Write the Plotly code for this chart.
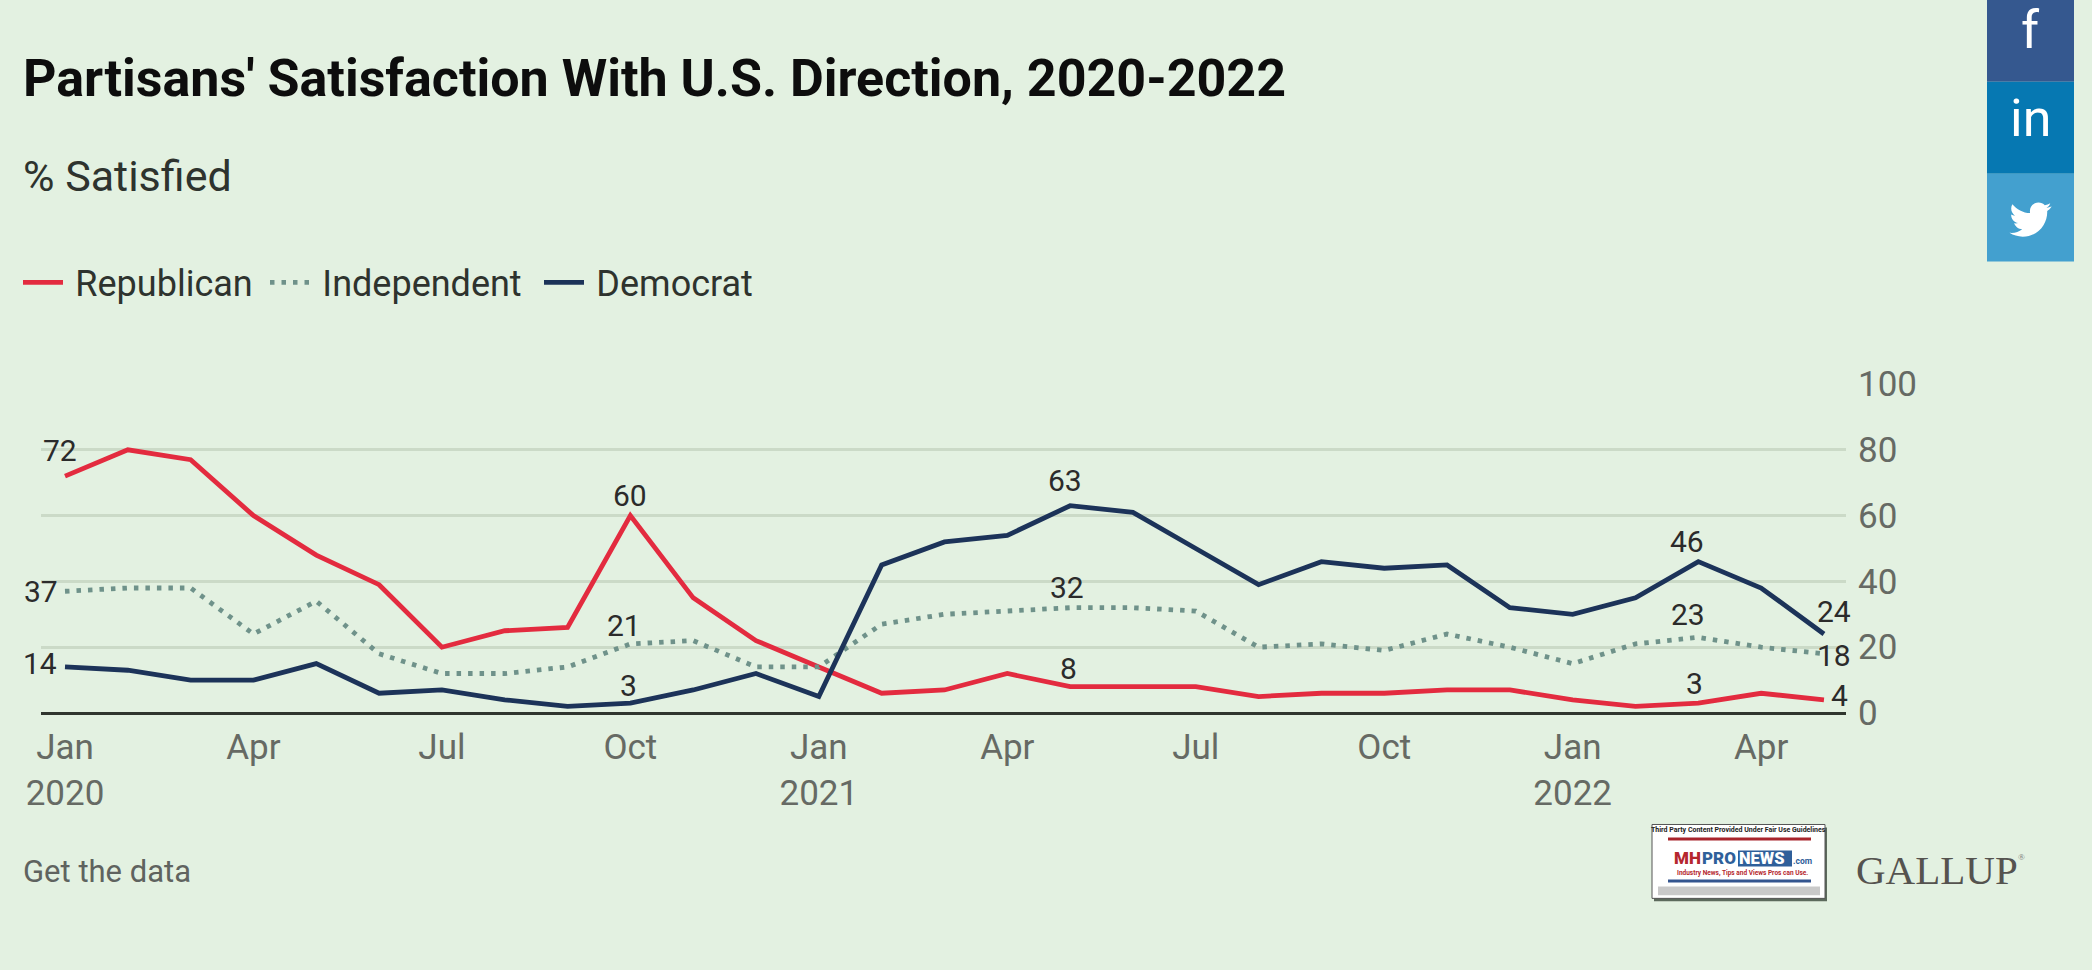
import re
import plotly.graph_objects as go

W, H = 2092, 970
PL, PR, PT, PB = 41, 1846, 383.7, 713.3

months = ["Jan", "Feb", "Mar", "Apr", "May", "Jun", "Jul", "Aug", "Sep", "Oct", "Nov", "Dec"]
categories = [f"{months[i % 12]} {2020 + i // 12}" for i in range(29)]
republican = [72, 80, 77, 60, 48, 39, 20, 25, 26, 60, 35, 22, 14, 6, 7, 12, 8, 8, 8, 5, 6, 6, 7, 7, 4, 2, 3, 6, 4]
independent = [37, 38, 38, 24, 34, 18, 12, 12, 14, 21, 22, 14, 14, 27, 30, 31, 32, 32, 31, 20, 21, 19, 24, 20, 15, 21, 23, 20, 18]
democrat = [14, 13, 10, 10, 15, 6, 7, 4, 2, 3, 7, 12, 5, 45, 52, 54, 63, 61, 50, 39, 46, 44, 45, 32, 30, 35, 46, 38, 24]
tick_positions = [0, 3, 6, 9, 12, 15, 18, 21, 24, 27]
tick_labels = ["Jan<br>2020", "Apr", "Jul", "Oct", "Jan<br>2021", "Apr", "Jul", "Oct", "Jan<br>2022", "Apr"]
y_ticks = [0, 20, 40, 60, 80, 100]

RED, GREY, NAVY = "#e32b3f", "#6f928a", "#1c3359"
BG = "#e3f1e1"
FONT = "Roboto"

def px(x):
    return (x - PL) / (PR - PL)

def py(y):
    return (PB - y) / (PB - PT)

fig = go.Figure()
for name, values, color, dash, lg in [
    ("Republican", republican, RED, "solid", "legend"),
    ("Independent", independent, GREY, "4.5px,7px", "legend2"),
    ("Democrat", democrat, NAVY, "solid", "legend3"),
]:
    fig.add_trace(go.Scatter(x=categories, y=values, mode="lines", name="\u2009" + name, legend=lg,
                             line=dict(color=color, width=4.8, dash=dash), hoverinfo="skip"))

# series value labels: (series, month index, xshift, yshift)
point_labels = [
    (republican, 0, -5, 26), (independent, 0, -24, 0), (democrat, 0, -25, 3),
    (republican, 9, 0, 20), (independent, 9, -6, 18), (democrat, 9, -2, 18),
    (democrat, 16, -5, 25), (independent, 16, -3, 20), (republican, 16, -2, 18),
    (democrat, 26, -11, 20), (independent, 26, -10, 23), (republican, 26, -4, 20),
    (democrat, 28, 10, 23), (independent, 28, 10, -2), (republican, 28, 16, 4),
]
annotations = []
for series, i, dx, dy in point_labels:
    annotations.append(dict(x=categories[i], y=series[i], xref="x", yref="y", text=str(series[i]),
                            showarrow=False, xshift=dx, yshift=dy, xanchor="center", yanchor="middle",
                            font=dict(family=FONT, size=30, color="#2b2b2b")))

def text(x, y, s, size, color="#333", family=FONT, anchor="left", weight=None):
    f = dict(family=family, size=size, color=color)
    if weight:
        f["weight"] = weight
    annotations.append(dict(x=px(x), y=py(y), xref="paper", yref="paper", text=s, showarrow=False,
                            xanchor=anchor, yanchor="middle", font=f, borderpad=0, borderwidth=0))

text(23, 78, "Partisans' Satisfaction With U.S. Direction, 2020-2022", 52, "#0d0d0d", weight=700)
text(23, 175, "% Satisfied", 43, "#2e332e")
text(23, 872, "Get the data", 31, "#5f635f")
text(1856, 871, "GALLUP", 41, "#55534f", family="Liberation Serif")
text(2018, 858, "®", 9, "#777", family="Liberation Serif")

shapes = []
def rect(x0, y0, x1, y1, fill, line=None, lw=0):
    shapes.append(dict(type="rect", xref="paper", yref="paper", x0=px(x0), x1=px(x1), y0=py(y1), y1=py(y0),
                       fillcolor=fill, line=dict(color=line or fill, width=lw), layer="above"))

# social buttons
rect(1987, -2, 2074, 81, "#35588f")
rect(1987, 81, 2074, 173, "#0678b2")
rect(1987, 173, 2074, 261, "#43a0cf")
text(2030.5, 30, "f", 52, "white", anchor="center")
text(2030.5, 118, "in", 52, "white", anchor="center")

BIRD = ("M23.954 4.569c-.885.389-1.83.654-2.825.775 1.014-.611 1.794-1.574 2.163-2.723-.951.555-2.005.959-3.127 1.184"
        "-.896-.959-2.173-1.559-3.591-1.559-2.717 0-4.92 2.203-4.92 4.917 0 .39.045.765.127 1.124"
        "C7.691 8.094 4.066 6.13 1.64 3.161c-.427.722-.666 1.561-.666 2.475 0 1.71.87 3.213 2.188 4.096"
        "-.807-.026-1.566-.248-2.228-.616c0 .02 0 .04 0 .061 0 2.385 1.693 4.374 3.946 4.827-.413.111-.849.171-1.296.171"
        "-.314 0-.615-.03-.916-.086.631 1.953 2.445 3.377 4.604 3.417-1.68 1.319-3.809 2.105-6.102 2.105"
        "-.39 0-.779-.023-1.17-.067 2.189 1.394 4.768 2.209 7.557 2.209 9.054 0 13.999-7.496 13.999-13.986"
        " 0-.209 0-.42-.015-.63.961-.689 1.8-1.56 2.46-2.548z")

def bird_path(ox, oy, s):
    out, cx, cy = [], 0.0, 0.0
    for cmd, args in re.findall(r"([MCcz])([^MCcz]*)", BIRD):
        nums = [float(n) for n in re.findall(r"-?\d*\.?\d+", args)]
        if cmd == "M":
            cx, cy = nums[0], nums[1]
            out.append(f"M{px(ox + s * cx)},{py(oy + s * cy)}")
        elif cmd in "Cc":
            for k in range(0, len(nums), 6):
                p = nums[k:k + 6]
                if cmd == "c":
                    p = [p[j] + (cx if j % 2 == 0 else cy) for j in range(6)]
                out.append("C" + " ".join(f"{px(ox + s * p[j])},{py(oy + s * p[j + 1])}" for j in (0, 2, 4)))
                cx, cy = p[4], p[5]
        else:
            out.append("Z")
    return "".join(out)

shapes.append(dict(type="path", xref="paper", yref="paper", path=bird_path(2009.5, 198, 1.75),
                   fillcolor="white", line=dict(width=0), layer="above"))

# fair-use badge
rect(1654, 828, 1827, 902, "#5c6a5c")
rect(1652, 825, 1825, 899, "white", "#555", 1)
rect(1658, 887, 1820, 896, "#c9c9c9")
rect(1668, 838, 1811, 841, "#a8242c")
rect(1668, 880, 1811, 883, "#34558f")
rect(1738, 851, 1792, 867, "#2f5f9a")
text(1738.5, 830.5, "Third Party Content Provided Under Fair Use Guidelines", 7, "#222", anchor="center", weight=700)
text(1674, 859, "MH", 17, "#b5272e", anchor="left", weight=900)
text(1702, 859, "PRO", 17, "#2f5f9a", anchor="left", weight=900)
text(1739, 859, "NEWS", 16.5, "white", anchor="left", weight=900)
text(1793, 862, ".com", 8.5, "#2f5f9a", anchor="left", weight=700)
text(1742, 873.5, "Industry News, Tips and Views Pros can Use.", 6.5, "#b5272e", anchor="center", weight=700)

def legend_at(x):
    return dict(orientation="h", x=px(x), y=py(282), xanchor="left", yanchor="middle",
                font=dict(family=FONT, size=36, color="#2e332e"), bgcolor="rgba(0,0,0,0)",
                itemwidth=40, itemclick=False, itemdoubleclick=False)

fig.update_layout(
    width=W, height=H, autosize=False,
    margin=dict(l=PL, r=W - PR, t=PT, b=H - PB, pad=0),
    paper_bgcolor=BG, plot_bgcolor=BG,
    font=dict(family=FONT, color="#333"),
    showlegend=True,
    legend=legend_at(18), legend2=legend_at(265), legend3=legend_at(539),
    xaxis=dict(type="category", categoryorder="array", categoryarray=categories,
               range=[-(65 - PL) / 62.82, (PR - 65) / 62.82],
               tickmode="array", tickvals=[categories[i] for i in tick_positions], ticktext=tick_labels,
               showgrid=False, zeroline=False, showline=False, ticks="", tickangle=0,
               tickfont=dict(family=FONT, size=35, color="#666a64"), ticklabelstandoff=10),
    yaxis=dict(side="right", range=[0, 100], tickmode="array", tickvals=y_ticks,
               showgrid=True, gridcolor="#cbdac7", gridwidth=2.6, zeroline=True, zerolinecolor="#30362e",
               zerolinewidth=3, showline=False, ticks="",
               tickfont=dict(family=FONT, size=35, color="#666a64"), ticklabelstandoff=11),
    annotations=annotations, shapes=shapes,
)

fig.write_html("out.html", config=dict(displayModeBar=False),
               post_script="document.body.style.margin='0';document.body.style.overflow='hidden';")
